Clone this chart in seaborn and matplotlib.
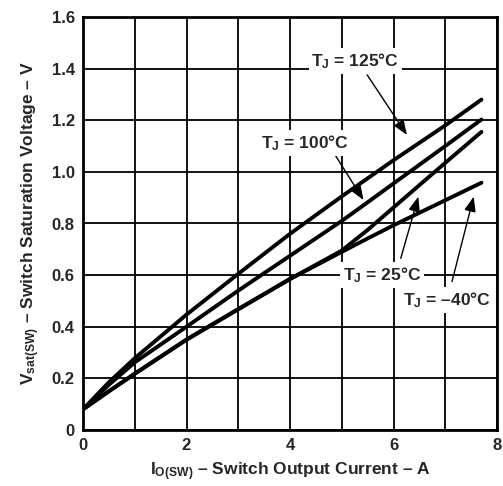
import numpy as np
import pandas as pd
import matplotlib
matplotlib.use("Agg")
import matplotlib.pyplot as plt
import seaborn as sns

# valeurs
current = [0, 0.5, 1, 2, 3, 4, 5, 5.5, 6, 7, 7.7]
v_125 = [0.08, 0.185, 0.278, 0.447, 0.605, 0.76, 0.905, 0.975, 1.045, 1.18, 1.28]
v_100 = [0.08, 0.175, 0.262, 0.40, 0.54, 0.675, 0.81, 0.882, 0.955, 1.10, 1.203]
v_25 = [0.08, 0.15, 0.218, 0.35, 0.468, 0.585, 0.695, 0.775, 0.862, 1.035, 1.155]
v_m40 = [0.08, 0.15, 0.218, 0.35, 0.468, 0.585, 0.69, 0.742, 0.793, 0.89, 0.958]
temps = ["125", "100", "25", "-40"]

x_ticks = [0, 1, 2, 3, 4, 5, 6, 7, 8]
x_labels = ["0", "", "2", "", "4", "", "6", "", "8"]
y_ticks = [0, 0.2, 0.4, 0.6, 0.8, 1.0, 1.2, 1.4, 1.6]
y_labels = ["0", "0.2", "0.4", "0.6", "0.8", "1.0", "1.2", "1.4", "1.6"]

df = pd.concat([
    pd.DataFrame({"I": current, "V": v, "T": t})
    for v, t in zip([v_125, v_100, v_25, v_m40], temps)
])

sns.set_style("white")
plt.rcParams["font.family"] = ["Liberation Sans", "DejaVu Sans"]
plt.rcParams["font.weight"] = "bold"
plt.rcParams["mathtext.fontset"] = "custom"
plt.rcParams["mathtext.rm"] = "Liberation Sans:bold"
plt.rcParams["mathtext.it"] = "Liberation Sans:bold"
plt.rcParams["mathtext.bf"] = "Liberation Sans:bold"

fig = plt.figure(figsize=(5.03, 4.86), dpi=100)
ax = fig.add_axes([83/503, 56/486, 414/503, 413/486])

sns.lineplot(data=df, x="I", y="V", units="T", estimator=None, sort=False,
             color="black", linewidth=2.8, ax=ax, legend=False)

ax.set_xlim(0, 8); ax.set_ylim(0, 1.6)
ax.set_xticks(x_ticks); ax.set_xticklabels(x_labels)
ax.set_yticks(y_ticks); ax.set_yticklabels(y_labels)
ax.tick_params(length=0, labelsize=12, pad=6)
ax.grid(True, color="black", linewidth=1.3)
ax.set_axisbelow(True)
for s in ax.spines.values():
    s.set_linewidth(2); s.set_color("black")

ax.set_xlabel(r"I$_{\rm O(SW)}$ – Switch Output Current – A", fontsize=12.5, fontweight="bold", labelpad=5)
ax.set_ylabel(r"V$_{\rm sat(SW)}$ – Switch Saturation Voltage – V", fontsize=12.5, fontweight="bold", labelpad=7)

arrow = dict(arrowstyle="-|>,head_length=0.9,head_width=0.35", color="black", lw=1, shrinkA=0, shrinkB=0)
box = dict(facecolor="white", edgecolor="none", pad=2)
notes = [
    (r"T$_{\rm J}$ = 125°C", (5.26, 1.43), (5.49, 1.376), (6.26, 1.143)),
    (r"T$_{\rm J}$ = 100°C", (4.29, 1.112), (4.87, 1.066), (5.42, 0.891)),
    (r"T$_{\rm J}$ = 25°C", (5.78, 0.60), (6.14, 0.665), (6.48, 0.904)),
    (r"T$_{\rm J}$ = –40°C", (7.03, 0.504), (7.13, 0.575), (7.55, 0.904)),
]
for txt, pos, tail, tip in notes:
    ax.annotate("", xy=tip, xytext=tail, arrowprops=arrow)
    ax.text(pos[0], pos[1], txt, ha="center", va="center", fontsize=12.5,
            fontweight="bold", bbox=box)

plt.savefig("out.png", dpi=100)
plt.close()
